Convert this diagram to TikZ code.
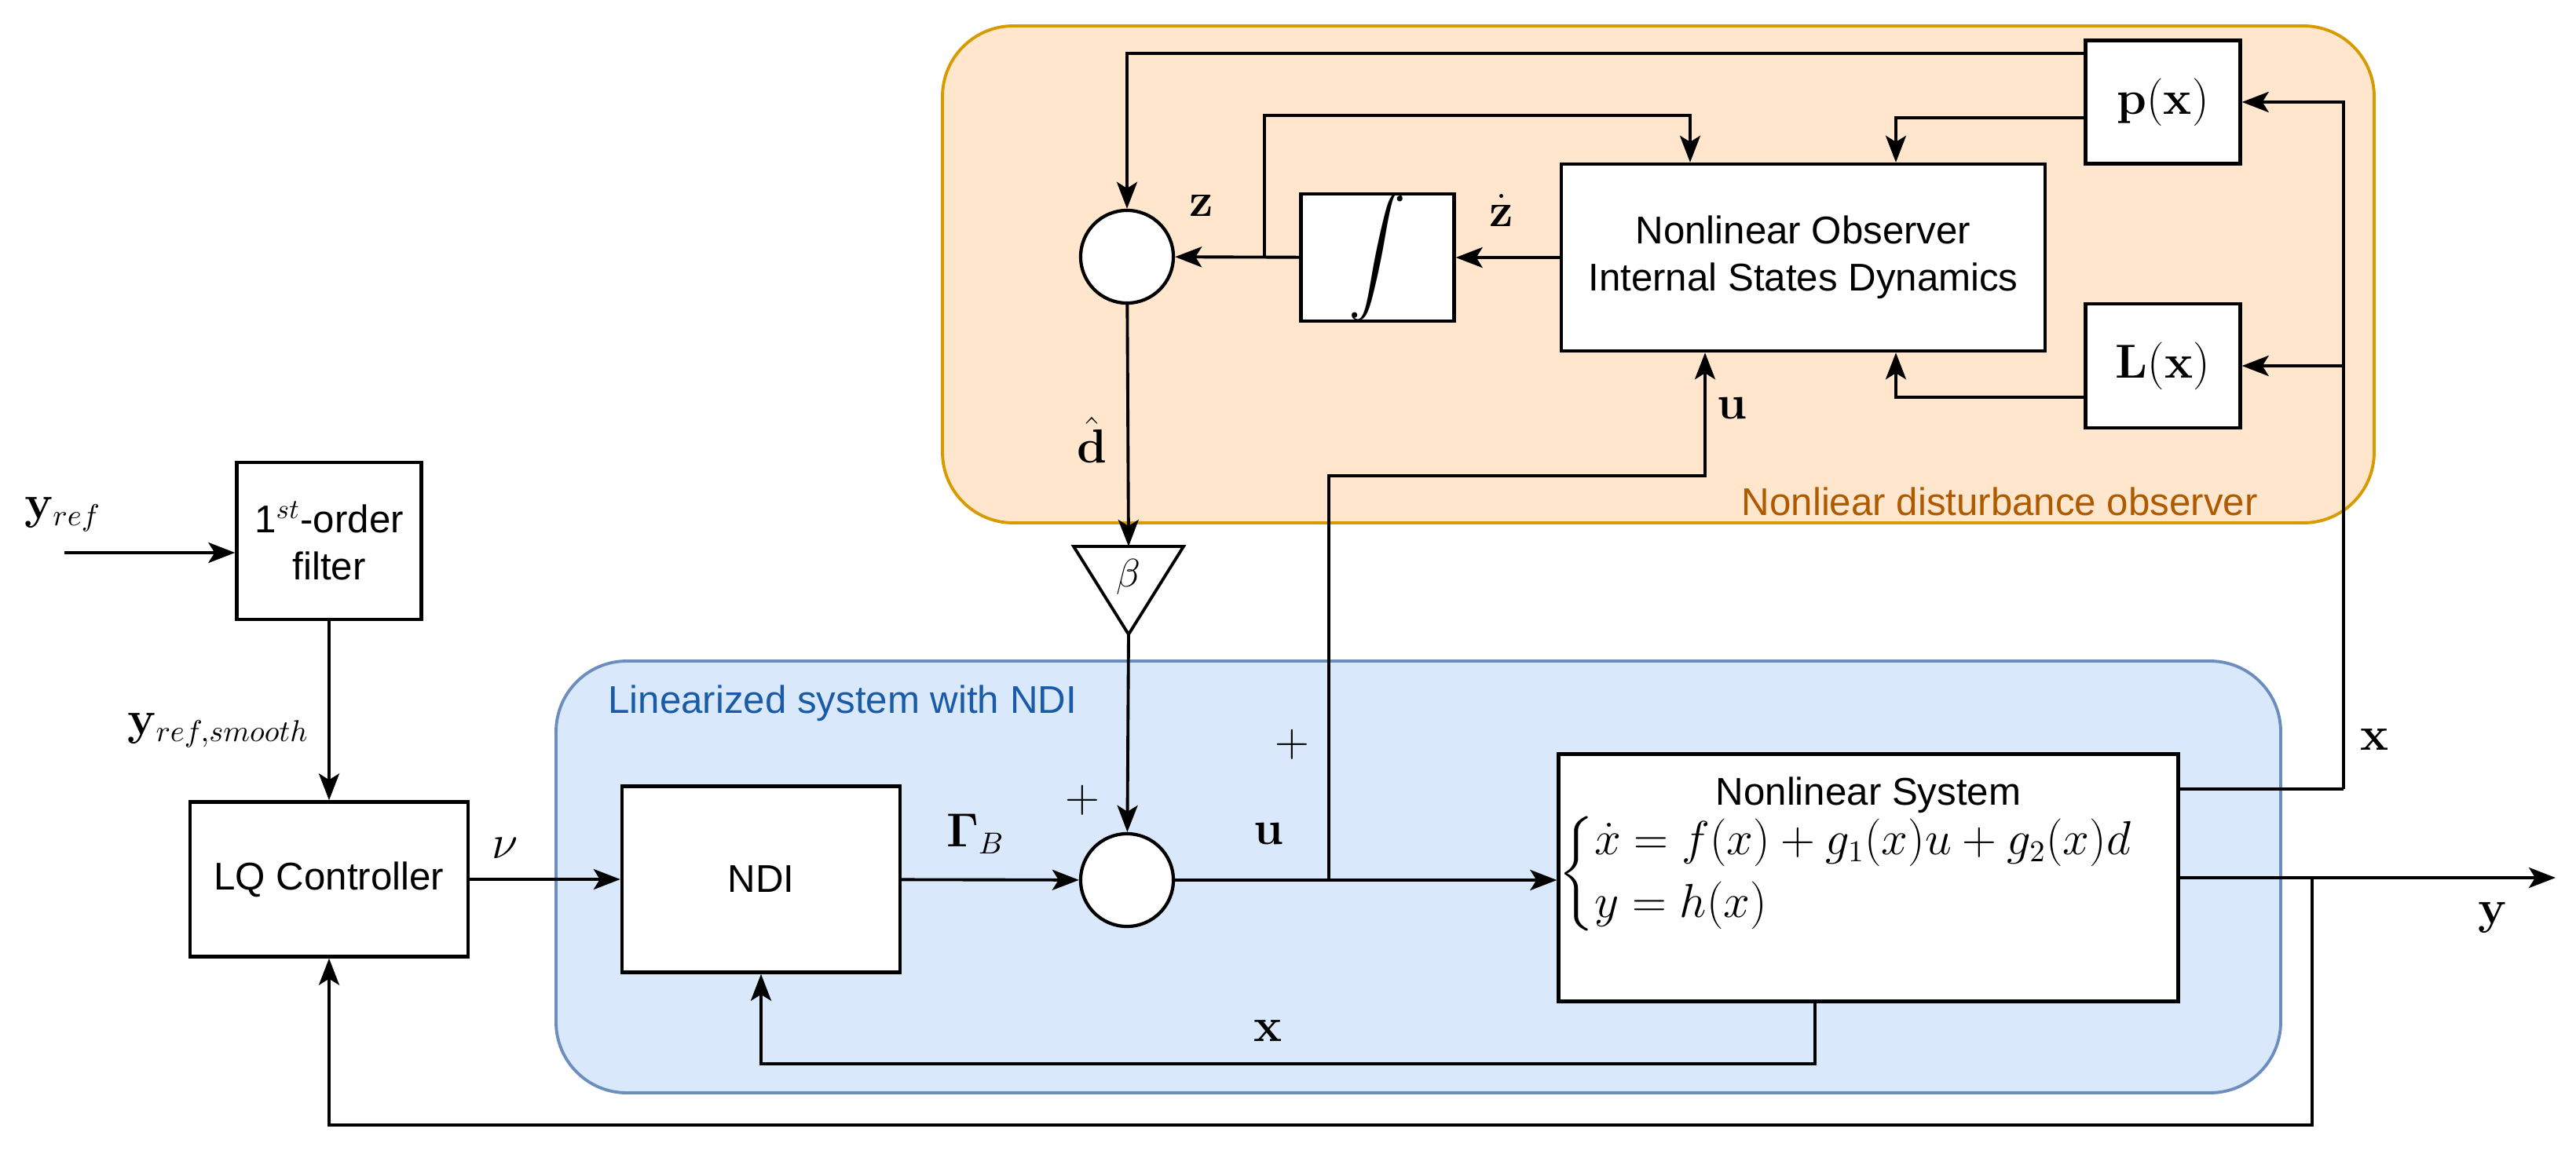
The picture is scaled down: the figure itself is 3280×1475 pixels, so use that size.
\documentclass[tikz,border=0pt]{standalone}
\usepackage{amsmath}
\usepackage[no-math]{fontspec}
\setmainfont{Liberation Sans}
\usetikzlibrary{arrows.meta,calc}
\definecolor{orfill}{HTML}{FFE6CC}
\definecolor{ordraw}{HTML}{D79B00}
\definecolor{blfill}{HTML}{DAE8FC}
\definecolor{bldraw}{HTML}{6C8EBF}
\definecolor{bltext}{HTML}{1A5BA8}
\definecolor{ortext}{HTML}{B05A00}
\begin{document}
\begin{tikzpicture}[x=0.01cm,y=-0.01cm,
  every node/.style={font=\fontsize{14}{17}\selectfont},
  box/.style={draw,fill=white,line width=1.2pt,inner sep=0pt,align=center},
  sumc/.style={draw,fill=white,circle,line width=1.2pt,minimum size=1.18cm,inner sep=0pt},
  ln/.style={line width=1.1pt},
  ar/.style={ln,-{Stealth[length=0.34cm,width=0.26cm,inset=0.08cm]}},
  lab/.style={font=\fontsize{16}{18}\selectfont}]
\useasboundingbox (0,0) rectangle (3280,1475);
% containers
\draw[fill=orfill,draw=ordraw,line width=1.1pt,rounded corners=0.9cm] (1200,33) rectangle (3023,666);
\draw[fill=blfill,draw=bldraw,line width=1.1pt,rounded corners=0.9cm] (708,842) rectangle (2904,1392);
\node[anchor=west,text=bltext] (tb) at (762,896) {Linearized system with NDI};
\node[anchor=east,text=ortext] (to) at (2887,639) {Nonliear disturbance observer};
% blocks
\node[box,minimum width=2.35cm,minimum height=2.0cm] (filt) at (419,689) {1$^{st}$-order\\filter};
\node[box,minimum width=3.54cm,minimum height=1.97cm] (lq) at (419,1120) {LQ Controller};
\node[box,minimum width=3.54cm,minimum height=2.37cm] (ndi) at (969,1120) {NDI};
\node[sumc] (sum) at (1435,1121) {};
\node[sumc] (ct) at (1435,327) {};
\node[box,minimum width=6.16cm,minimum height=2.38cm] (obs) at (2296,328) {Nonlinear Observer\\Internal States Dynamics};
\node[box,minimum width=1.95cm,minimum height=1.59cm] (int) at (1754,328) {\fontsize{20}{22}\selectfont$\displaystyle\int$};
\node[box,minimum width=1.97cm,minimum height=1.57cm] (p) at (2754,130) {\fontsize{16}{18}\selectfont$\mathbf{p(x)}$};
\node[box,minimum width=1.97cm,minimum height=1.58cm] (L) at (2754,466) {\fontsize{16}{18}\selectfont$\mathbf{L(x)}$};
\node[box,minimum width=7.64cm,minimum height=3.15cm] (ns) at (2379,1118) {Nonlinear System\\[-2pt]
  \fontsize{16}{19}\selectfont$\begin{cases}\dot{x}=f(x)+g_1(x)u+g_2(x)d\\ y=h(x)\end{cases}$\\[14pt]\mbox{}};
% beta triangle
\coordinate (btop) at (1437,696);
\coordinate (btip) at (1437,808);
\draw[fill=white,line width=1.1pt] (1367,696) -- (1507,696) -- (btip) -- cycle;
\node (beta) at (1437,735) {$\beta$};
% coordinates
\coordinate (yin) at (82,704);
\coordinate (yout) at (3254,1118);
\coordinate (bu) at (1692,1121);
\coordinate (by) at (2944,1118);
\coordinate (bz) at (1610,328);
\coordinate (xr) at (2984,1005);
% connectors
\draw[ar] (yin) -- (filt.west |- yin);
\draw[ar] (filt) -- (lq);
\draw[ar] (lq) -- (ndi);
\draw[ar] (ndi) -- (sum);
\draw[ar] (sum) -- (ns.west |- sum);
\draw[ar] (ns.east |- yout) -- (yout);
\draw[ar] (by) -- (2944,1433) -| (lq.south);
\draw[ar] (2311,1276) -- (2311,1355) -| (ndi.south);
\draw[ln] (ns.east |- xr) -- (xr);
\draw[ar] (xr) -- (2984,130) -- (p.east);
\draw[ar] (2984,466) -- (L.east);
\draw[ar] (bu) -- (1692,606) -| (obs.south -| 2171,0);
\draw[ar] (p.west |- 0,68) -| (ct.north);
\draw[ar] (p.west |- 0,150) -| (obs.north -| 2414,0);
\draw[ar] (L.west |- 0,506) -| (obs.south -| 2414,0);
\draw[ar] (obs) -- (int);
\draw[ar] (int) -- (ct);
\draw[ar] (bz) -- (1610,147) -| (obs.north -| 2152,0);
\draw[ar] (ct) -- (btop);
\draw[ar] (btip) -- (sum);
% labels
\node[lab] (lz) at (1530,262) {$\mathbf{z}$};
\node[lab] (lzd) at (1912,268) {$\dot{\mathbf{z}}$};
\node[lab] (ld) at (1390,560) {$\hat{\mathbf{d}}$};
\node[lab] (lu1) at (2205,520) {$\mathbf{u}$};
\node[lab] (lx1) at (3024,942) {$\mathbf{x}$};
\node[lab] (ly) at (3174,1169) {$\mathbf{y}$};
\node[lab] (lg) at (1242,1062) {$\boldsymbol{\Gamma}_B$};
\node[lab] (lu2) at (1615,1062) {$\mathbf{u}$};
\node[lab] (lx2) at (1615,1313) {$\mathbf{x}$};
\node[lab] (pl1) at (1378,1019) {$+$};
\node[lab] (pl2) at (1645,948) {$+$};
\node[lab] (lnu) at (643,1080) {$\nu$};
\node[lab] (lyr) at (80,655) {$\mathbf{y}_{ref}$};
\node[lab] (lyrs) at (278,930) {$\mathbf{y}_{ref,smooth}$};
\end{tikzpicture}
\end{document}
